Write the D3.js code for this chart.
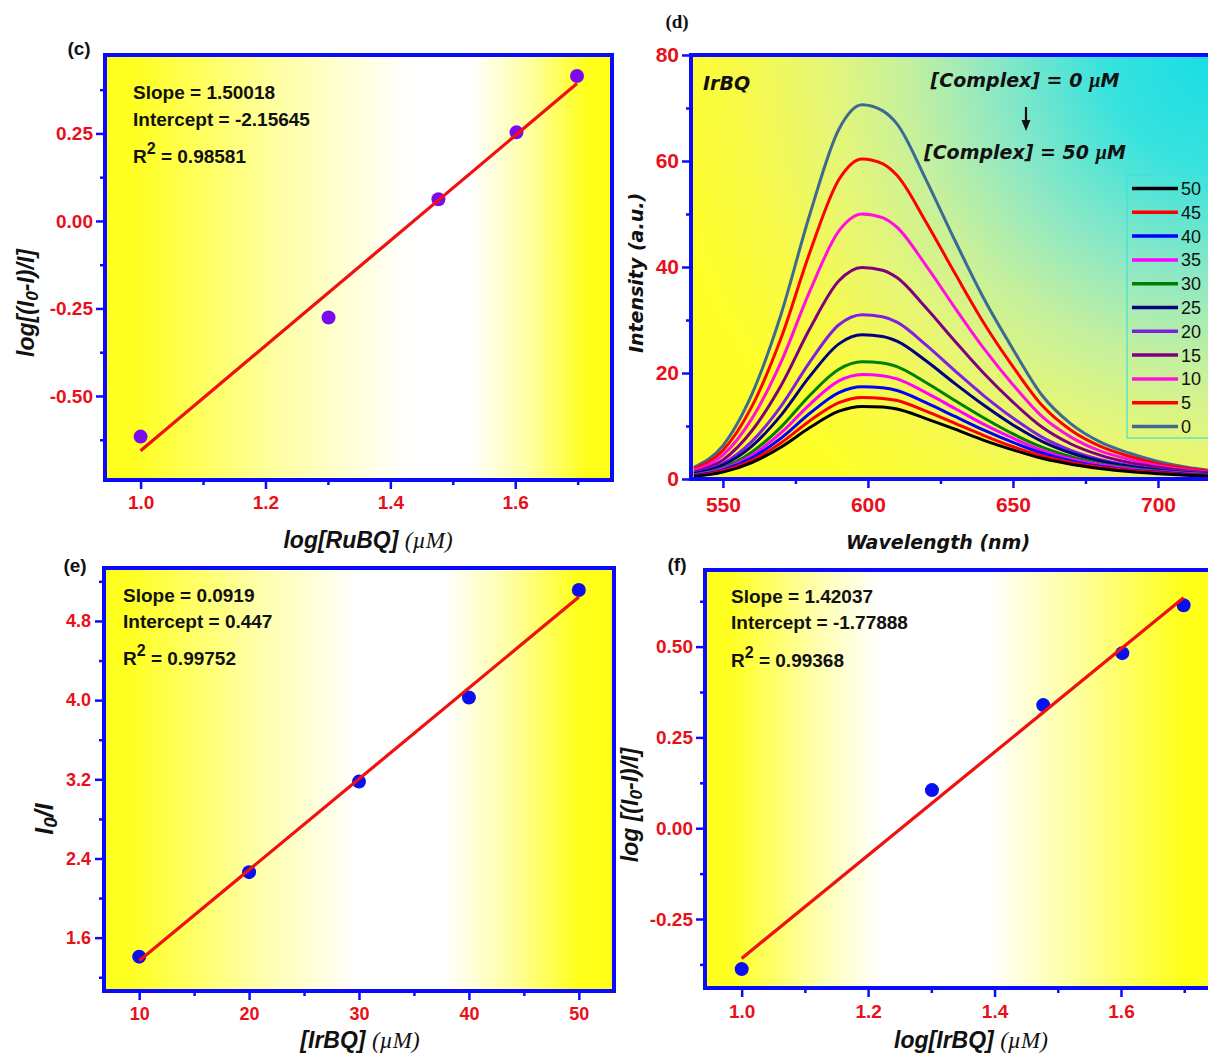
<!DOCTYPE html>
<html>
<head>
<meta charset="utf-8">
<script src="https://cdn.jsdelivr.net/npm/d3@7"></script>
<style>
body { margin: 0; background: #fff; }
svg { display: block; }
</style>
</head>
<body>
<script>
// (c) log plot, RuBQ
var ruLogConc = [1.0, 1.301, 1.477, 1.602, 1.699];
var ruLogQ = [-0.616, -0.276, 0.062, 0.253, 0.414];
var ruSlope = 1.50018, ruIntercept = -2.15645, ruR2 = 0.98581;

// (e) Stern-Volmer, IrBQ
var irConc = [10, 20, 30, 40, 50];
var irI0I = [1.408, 2.262, 3.177, 4.027, 5.113];
var svSlope = 0.0919, svIntercept = 0.447, svR2 = 0.99752;

// (f) log plot, IrBQ
var irLogConc = [1.0, 1.301, 1.477, 1.602, 1.699];
var irLogQ = [-0.388, 0.105, 0.339, 0.482, 0.614];
var irSlope = 1.42037, irIntercept = -1.77888, irR2 = 0.99368;

// (d) emission spectra, IrBQ, [Complex] in uM
var specWl = [540, 550, 560, 570, 580, 590, 598, 605, 610, 620, 630, 640, 650, 660, 670, 680, 690, 700, 710, 720];
var spec0  = [2.2, 6.3, 16, 31, 50, 66, 70.6, 69.5, 67, 56.5, 45, 34, 24.5, 15.8, 10.4, 7, 4.9, 3.3, 2.2, 1.5];
var spec5  = [1.9, 5.4, 13.7, 26.5, 42.8, 56.5, 60.4, 59.5, 57.3, 48.5, 38.8, 29.4, 21.2, 13.9, 9.2, 6.2, 4.3, 2.9, 2.0, 1.4];
var spec10 = [1.6, 4.5, 11.4, 22, 35.5, 46.8, 50, 49.3, 47.5, 40.3, 32.3, 24.6, 17.8, 11.8, 7.9, 5.3, 3.7, 2.5, 1.7, 1.2];
var spec15 = [1.3, 3.6, 9.1, 17.6, 28.4, 37.4, 39.9, 39.4, 38, 32.3, 26, 19.9, 14.5, 9.8, 6.6, 4.5, 3.1, 2.2, 1.5, 1.1];
var spec20 = [1.1, 2.9, 7.1, 13.7, 22.1, 29.1, 31, 30.6, 29.6, 25.3, 20.4, 15.7, 11.5, 7.9, 5.4, 3.7, 2.6, 1.8, 1.3, 0.9];
var spec25 = [1.0, 2.6, 6.2, 12, 19.4, 25.5, 27.2, 26.9, 26, 22.3, 18, 13.9, 10.2, 7.1, 4.9, 3.4, 2.4, 1.7, 1.2, 0.9];
var spec30 = [0.8, 2.1, 5.1, 9.8, 15.8, 20.7, 22.1, 21.9, 21.2, 18.2, 14.8, 11.5, 8.5, 6, 4.2, 2.9, 2.1, 1.5, 1.1, 0.8];
var spec35 = [0.7, 1.9, 4.5, 8.7, 14.1, 18.5, 19.7, 19.5, 18.9, 16.3, 13.3, 10.3, 7.7, 5.4, 3.8, 2.7, 1.9, 1.4, 1.0, 0.7];
var spec40 = [0.6, 1.7, 4.0, 7.7, 12.4, 16.3, 17.4, 17.2, 16.7, 14.4, 11.8, 9.2, 6.9, 4.9, 3.4, 2.4, 1.7, 1.3, 0.9, 0.7];
var spec45 = [0.5, 1.5, 3.5, 6.8, 11, 14.4, 15.4, 15.2, 14.8, 12.8, 10.5, 8.2, 6.1, 4.4, 3.1, 2.2, 1.6, 1.2, 0.8, 0.6];
var spec50 = [0.5, 1.3, 3.1, 6.0, 9.7, 12.8, 13.7, 13.6, 13.2, 11.4, 9.4, 7.3, 5.5, 3.9, 2.8, 2.0, 1.4, 1.0, 0.7, 0.5];
var specConc = [50, 45, 40, 35, 30, 25, 20, 15, 10, 5, 0];
var specValues = [spec50, spec45, spec40, spec35, spec30, spec25, spec20, spec15, spec10, spec5, spec0];
var specColors = ['#000000', '#ff0000', '#0000ff', '#ff00ff', '#008000', '#000080', '#7f1fe6', '#800080', '#ff10e0', '#ff0000', '#3d6a93'];

var BLUE = '#0a0aff', RED_TXT = '#e8101a';
var SANS = '"Liberation Sans", Arial, sans-serif';
var WIDE = '"DejaVu Sans", Verdana, sans-serif';
var SERIF = '"Liberation Serif", "Times New Roman", serif';

var svg = d3.select('body').append('svg').attr('width', 1208).attr('height', 1057);
var defs = svg.append('defs');

function linGrad(id, stops) {
  var lg = defs.append('linearGradient').attr('id', id)
    .attr('x1', 0).attr('x2', 1).attr('y1', 0).attr('y2', 0);
  stops.forEach(function (s) { lg.append('stop').attr('offset', s[0]).attr('stop-color', s[1]); });
}
linGrad('gradC', [[0, '#ffff1a'], [0.06, '#ffff22'], [0.35, '#ffffa8'], [0.6, '#ffffff'], [0.72, '#ffffff'], [0.84, '#ffffa0'], [0.95, '#ffff1a'], [1, '#ffff1a']]);
linGrad('gradE', [[0, '#ffff1a'], [0.05, '#ffff22'], [0.3, '#ffffa8'], [0.5, '#ffffff'], [0.67, '#ffffff'], [0.8, '#ffffa0'], [0.93, '#ffff1a'], [1, '#ffff1a']]);
linGrad('gradF', [[0, '#ffff1a'], [0.05, '#ffff22'], [0.2, '#ffffa0'], [0.34, '#ffffff'], [0.55, '#ffffff'], [0.72, '#ffffa0'], [0.93, '#ffff1a'], [1, '#ffff1a']]);

var rg = defs.append('radialGradient').attr('id', 'gradD')
  .attr('gradientUnits', 'userSpaceOnUse').attr('cx', 1216).attr('cy', 55).attr('r', 560);
[[0, '#18dde6'], [0.2, '#38e2de'], [0.4, '#8ee8c4'], [0.55, '#c4f09e'], [0.7, '#e6f676'], [0.85, '#f8fa48'], [1, '#ffff28']]
  .forEach(function (s) { rg.append('stop').attr('offset', s[0]).attr('stop-color', s[1]); });

function blank() { return ''; }

function drawAxes(g, x, y, p) {
  g.append('g').attr('transform', 'translate(0,' + p.bottom + ')')
    .call(d3.axisBottom(x).tickValues(p.xMinor).tickFormat(blank).tickSize(5));
  g.append('g').attr('transform', 'translate(' + p.left + ',0)')
    .call(d3.axisLeft(y).tickValues(p.yMinor).tickFormat(blank).tickSize(5));
  g.append('g').attr('transform', 'translate(0,' + p.bottom + ')')
    .call(d3.axisBottom(x).tickValues(p.xTicks).tickFormat(p.xFmt).tickSize(9).tickPadding(p.padX));
  g.append('g').attr('transform', 'translate(' + p.left + ',0)')
    .call(d3.axisLeft(y).tickValues(p.yTicks).tickFormat(p.yFmt).tickSize(9).tickPadding(p.padY));
  g.selectAll('.domain').remove();
  g.selectAll('.tick line').attr('stroke', BLUE).attr('stroke-width', 2.5);
  g.selectAll('.tick text').attr('fill', RED_TXT)
    .style('font', 'bold ' + p.tickFont + 'px ' + SANS);
}

function fitPanel(p) {
  var x = d3.scaleLinear().domain(p.xDomain).range([p.left, p.right]);
  var y = d3.scaleLinear().domain(p.yDomain).range([p.bottom, p.top]);
  var g = svg.append('g');
  g.append('rect').attr('x', p.left).attr('y', p.top)
    .attr('width', p.right - p.left).attr('height', p.bottom - p.top)
    .attr('fill', 'url(#' + p.grad + ')');
  drawAxes(g, x, y, p);

  g.selectAll('circle.pt').data(p.xs).enter().append('circle')
    .attr('class', 'pt')
    .attr('cx', function (d) { return x(d); })
    .attr('cy', function (d, i) { return y(p.ys[i]); })
    .attr('r', 7).attr('fill', p.dot);

  var xa = p.xs[0], xb = p.xs[p.xs.length - 1];
  g.append('line')
    .attr('x1', x(xa)).attr('y1', y(p.slope * xa + p.intercept))
    .attr('x2', x(xb)).attr('y2', y(p.slope * xb + p.intercept))
    .attr('stroke', '#f01010').attr('stroke-width', 3.2);

  g.append('rect').attr('x', p.left).attr('y', p.top)
    .attr('width', p.right - p.left).attr('height', p.bottom - p.top)
    .attr('fill', 'none').attr('stroke', BLUE).attr('stroke-width', 4);

  var st = { 'font-family': SANS, 'font-weight': 'bold', 'font-size': '19px', fill: '#111' };
  var t1 = g.append('text').attr('x', p.statX).attr('y', p.statY[0]).text('Slope = ' + p.slope);
  var t2 = g.append('text').attr('x', p.statX).attr('y', p.statY[1]).text('Intercept = ' + p.intercept);
  var t3 = g.append('text').attr('x', p.statX).attr('y', p.statY[2]);
  t3.append('tspan').text('R');
  t3.append('tspan').attr('dy', -9).attr('font-size', '16px').text('2');
  t3.append('tspan').attr('dy', 9).text(' = ' + p.r2);
  [t1, t2, t3].forEach(function (t) { for (var k in st) t.style(k, st[k]); });

  // panel letter
  g.append('text').attr('x', p.letterPos[0]).attr('y', p.letterPos[1])
    .attr('text-anchor', 'middle').style('font', 'bold 19px ' + SANS).style('fill', '#111')
    .text(p.letter);

  // x title
  var xt = g.append('text').attr('x', p.xTitlePos[0]).attr('y', p.xTitlePos[1])
    .attr('text-anchor', 'middle').style('font', 'italic bold 23px ' + SANS).style('fill', '#111');
  xt.append('tspan').text(p.xTitle + ' ');
  xt.append('tspan').style('font', 'italic 23px ' + SERIF).text('(\u00b5M)');

  // y title
  var yt = g.append('text')
    .attr('transform', 'translate(' + p.yTitlePos[0] + ',' + p.yTitlePos[1] + ') rotate(-90)')
    .attr('text-anchor', 'middle').attr('dominant-baseline', 'central')
    .style('font', 'italic bold ' + p.yTitleSize + 'px ' + SANS).style('fill', '#111');
  p.yTitle.forEach(function (part) {
    var ts = yt.append('tspan').text(part.t);
    if (part.sub) ts.attr('dy', 6).attr('font-size', (p.yTitleSize * 0.75) + 'px');
    if (part.up) ts.attr('dy', -6);
  });
}

var fmt1 = function (d) { return d.toFixed(1); };
var fmt2 = function (d) { return d.toFixed(2); };
var fmt0 = function (d) { return d.toFixed(0); };

fitPanel({
  left: 105, right: 612, top: 55, bottom: 480,
  xDomain: [0.943, 1.755], yDomain: [-0.74, 0.474],
  xTicks: [1.0, 1.2, 1.4, 1.6], xMinor: [1.1, 1.3, 1.5, 1.7],
  yTicks: [-0.5, -0.25, 0, 0.25], yMinor: [-0.625, -0.375, -0.125, 0.125, 0.375],
  xFmt: fmt1, yFmt: fmt2, padX: 7, padY: 3, tickFont: 19,
  xs: ruLogConc, ys: ruLogQ, slope: ruSlope, intercept: ruIntercept, r2: ruR2,
  dot: '#7b0af0', grad: 'gradC',
  statX: 133, statY: [99, 126, 163],
  letter: '(c)', letterPos: [79, 55],
  xTitle: 'log[RuBQ]', xTitlePos: [368, 548],
  yTitle: [{ t: 'log[(I' }, { t: '0', sub: true }, { t: '-I)/I]', up: true }],
  yTitleSize: 23, yTitlePos: [26, 303]
});

fitPanel({
  left: 104, right: 614, top: 568, bottom: 991,
  xDomain: [6.8, 53.2], yDomain: [1.061, 5.335],
  xTicks: [10, 20, 30, 40, 50], xMinor: [15, 25, 35, 45],
  yTicks: [1.6, 2.4, 3.2, 4.0, 4.8], yMinor: [1.2, 2.0, 2.8, 3.6, 4.4, 5.2],
  xFmt: fmt0, yFmt: fmt1, padX: 7, padY: 4, tickFont: 18,
  xs: irConc, ys: irI0I, slope: svSlope, intercept: svIntercept, r2: svR2,
  dot: '#0a0ff0', grad: 'gradE',
  statX: 123, statY: [602, 628, 665],
  letter: '(e)', letterPos: [75, 572],
  xTitle: '[IrBQ]', xTitlePos: [360, 1048],
  yTitle: [{ t: 'I' }, { t: '0', sub: true }, { t: '/I', up: true }],
  yTitleSize: 25, yTitlePos: [44, 819]
});

fitPanel({
  left: 705, right: 1219, top: 570, bottom: 988,
  xDomain: [0.942, 1.755], yDomain: [-0.44, 0.711],
  xTicks: [1.0, 1.2, 1.4, 1.6], xMinor: [1.1, 1.3, 1.5, 1.7],
  yTicks: [-0.25, 0, 0.25, 0.5], yMinor: [-0.375, -0.125, 0.125, 0.375, 0.625],
  xFmt: fmt1, yFmt: fmt2, padX: 8, padY: 3, tickFont: 19,
  xs: irLogConc, ys: irLogQ, slope: irSlope, intercept: irIntercept, r2: irR2,
  dot: '#0a0ff0', grad: 'gradF',
  statX: 731, statY: [603, 629, 667],
  letter: '(f)', letterPos: [677, 571],
  xTitle: 'log[IrBQ]', xTitlePos: [971, 1048],
  yTitle: [{ t: 'log [(I' }, { t: '0', sub: true }, { t: '-I)/I]', up: true }],
  yTitleSize: 23, yTitlePos: [630, 805]
});

// (d) emission spectra
(function () {
  var p = {
    left: 691, right: 1216, top: 55, bottom: 479,
    xTicks: [550, 600, 650, 700], xMinor: [575, 625, 675],
    yTicks: [0, 20, 40, 60, 80], yMinor: [10, 30, 50, 70],
    xFmt: fmt0, yFmt: fmt0, padX: 9, padY: 3, tickFont: 21
  };
  var x = d3.scaleLinear().domain([539, 720]).range([p.left, p.right]);
  var y = d3.scaleLinear().domain([0, 80]).range([p.bottom, p.top]);
  var g = svg.append('g');
  g.append('rect').attr('x', p.left).attr('y', p.top)
    .attr('width', p.right - p.left).attr('height', p.bottom - p.top)
    .attr('fill', 'url(#gradD)');
  drawAxes(g, x, y, p);

  defs.append('clipPath').attr('id', 'clipD').append('rect')
    .attr('x', p.left).attr('y', p.top).attr('width', p.right - p.left).attr('height', p.bottom - p.top);

  var line = d3.line()
    .x(function (d, i) { return x(specWl[i]); })
    .y(function (d) { return y(d); })
    .curve(d3.curveMonotoneX);

  var drawOrder = specValues.slice().reverse();
  var drawColors = specColors.slice().reverse();
  g.append('g').attr('clip-path', 'url(#clipD)')
    .selectAll('path').data(drawOrder).enter().append('path')
    .attr('d', line).attr('fill', 'none')
    .attr('stroke', function (d, i) { return drawColors[i]; })
    .attr('stroke-width', 3);

  g.append('rect').attr('x', p.left).attr('y', p.top)
    .attr('width', p.right - p.left).attr('height', p.bottom - p.top)
    .attr('fill', 'none').attr('stroke', BLUE).attr('stroke-width', 4);

  // legend
  var lg = g.append('g');
  lg.append('rect').attr('x', 1127).attr('y', 175).attr('width', 90).attr('height', 263)
    .attr('fill', 'none').attr('stroke', '#3fe0dc').attr('stroke-width', 1.2);
  var rows = lg.selectAll('g.row').data(specConc).enter().append('g')
    .attr('transform', function (d, i) { return 'translate(0,' + (188.5 + i * 23.8) + ')'; });
  rows.append('line').attr('x1', 1132).attr('x2', 1178)
    .attr('stroke', function (d, i) { return specColors[i]; }).attr('stroke-width', 3.5);
  rows.append('text').attr('x', 1181).attr('dy', '0.36em')
    .style('font', '18px ' + SANS).style('fill', '#111').text(function (d) { return d; });

  // annotations
  g.append('text').attr('x', 703).attr('y', 90)
    .style('font', 'italic bold 19px ' + WIDE).style('fill', '#111').text('IrBQ');
  function complexLabel(val, yy) {
    var t = g.append('text').attr('x', 1025).attr('y', yy).attr('text-anchor', 'middle')
      .style('font', 'italic bold 19px ' + WIDE).style('fill', '#111');
    t.append('tspan').text('[Complex] = ' + val + ' ');
    t.append('tspan').style('font', 'italic bold 20px ' + SERIF).text('\u00b5');
    t.append('tspan').text('M');
  }
  complexLabel(0, 87);
  complexLabel(50, 159);
  g.append('line').attr('x1', 1026).attr('x2', 1026).attr('y1', 107).attr('y2', 122)
    .attr('stroke', '#111').attr('stroke-width', 2.2);
  g.append('path').attr('d', 'M1021.5,120 L1030.5,120 L1026,131 Z').attr('fill', '#111');

  g.append('text').attr('x', 677).attr('y', 28).attr('text-anchor', 'middle')
    .style('font', 'bold 19px ' + SERIF).style('fill', '#111').text('(d)');

  g.append('text').attr('x', 938).attr('y', 549).attr('text-anchor', 'middle')
    .style('font', 'italic bold 19px ' + WIDE).style('fill', '#111').text('Wavelength (nm)');
  g.append('text').attr('transform', 'translate(636,273) rotate(-90)')
    .attr('text-anchor', 'middle').attr('dominant-baseline', 'central')
    .style('font', 'italic bold 19px ' + WIDE).style('fill', '#111').text('Intensity (a.u.)');
})();
</script>
</body>
</html>
